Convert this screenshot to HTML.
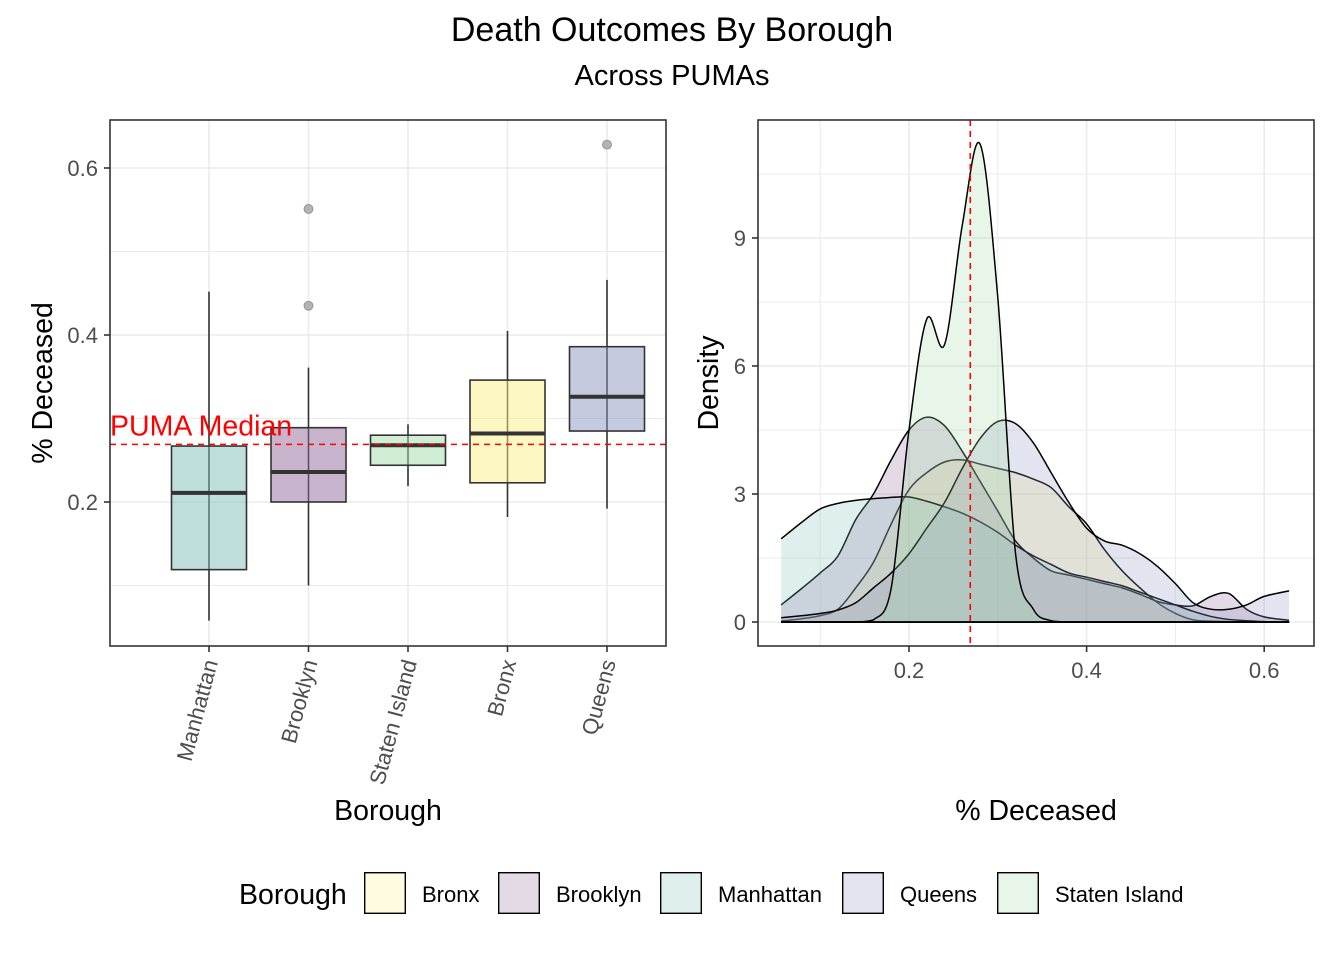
<!DOCTYPE html>
<html><head><meta charset="utf-8">
<style>
body{margin:0;background:#fff;}
svg{display:block;font-family:"Liberation Sans",Arial,sans-serif;}
</style></head>
<body>
<svg id="chart" width="1344" height="960" viewBox="0 0 1344 960" xmlns="http://www.w3.org/2000/svg">
<rect width="1344" height="960" fill="#fff"/>
<text x="672" y="41" font-size="34" text-anchor="middle" fill="#000">Death Outcomes By Borough</text>
<text x="672" y="85" font-size="29" text-anchor="middle" fill="#000">Across PUMAs</text>
<g id="left"></g>
<g id="right"></g>
<g id="legend"></g>
</svg>
<script>
// ---- data ----
const boroughs = ["Manhattan","Brooklyn","Staten Island","Bronx","Queens"];
const q1 = [0.119,0.200,0.244,0.223,0.285];
const med = [0.211,0.236,0.268,0.282,0.326];
const q3 = [0.267,0.289,0.280,0.346,0.386];
const whiskLo = [0.058,0.100,0.219,0.182,0.192];
const whiskHi = [0.452,0.361,0.293,0.405,0.466];
const outlierBorough = ["Brooklyn","Brooklyn","Queens"];
const outlierValue = [0.551,0.435,0.628];
const pumaMedian = 0.269;
const yTicksLeft = [0.2,0.4,0.6];
const densityX = [0.056,0.08,0.10,0.12,0.14,0.16,0.18,0.20,0.22,0.24,0.26,0.28,0.30,0.32,0.34,0.36,0.38,0.40,0.42,0.44,0.46,0.48,0.50,0.52,0.54,0.56,0.58,0.60,0.628];
const densBronx = [0.02,0.08,0.15,0.3,0.8,1.4,2.3,3.1,3.5,3.75,3.8,3.7,3.6,3.5,3.35,3.15,2.7,2.3,1.7,1.2,0.8,0.45,0.2,0.05,0.02,0.01,0,0,0];
const densBrooklyn = [0.4,0.8,1.15,1.55,2.4,3.0,3.8,4.5,4.8,4.6,4.0,3.3,2.6,1.9,1.5,1.2,1.1,1.0,0.9,0.8,0.65,0.48,0.4,0.38,0.6,0.67,0.3,0.12,0.04];
const densManhattan = [1.95,2.35,2.65,2.78,2.85,2.89,2.92,2.93,2.83,2.7,2.55,2.35,2.1,1.8,1.55,1.35,1.15,1.05,0.95,0.85,0.7,0.55,0.4,0.25,0.13,0.06,0.03,0.01,0];
const densQueens = [0.1,0.15,0.2,0.28,0.45,0.8,1.15,1.6,2.2,2.8,3.6,4.3,4.7,4.65,4.2,3.5,2.8,2.2,1.9,1.8,1.6,1.3,0.9,0.45,0.3,0.3,0.4,0.6,0.73];
const densStaten = [0,0,0,0,0,0.05,0.8,4.5,7.1,6.5,9.3,11.2,7.6,1.6,0.3,0.03,0,0,0,0,0,0,0,0,0,0,0,0,0];
const xTicksRight = [0.2,0.4,0.6];
const yTicksRight = [0,3,6,9];
const legendNames = ["Bronx","Brooklyn","Manhattan","Queens","Staten Island"];

const NS="http://www.w3.org/2000/svg";
const base = {"Bronx":"#fbf185","Brooklyn":"#916b9b","Manhattan":"#7fbfbb","Queens":"#8b95bf","Staten Island":"#a1dda7"};
function mk(tag,attrs,parent){const e=document.createElementNS(NS,tag);for(const k in attrs)e.setAttribute(k,attrs[k]);parent.appendChild(e);return e;}

// ---- left panel ----
const L=document.getElementById('left');
const lx0=110,lx1=666,ly0=120,ly1=646;
const yL=v=>502-(v-0.2)*835;
const xL=i=>209+i*99.5;
mk('rect',{x:lx0,y:ly0,width:lx1-lx0,height:ly1-ly0,fill:'#fff'},L);
[0.1,0.3,0.5].forEach(v=>{const g=mk('line',{x1:lx0,x2:lx1,y1:yL(v),y2:yL(v),stroke:'#ebebeb','stroke-width':1},L);

});
yTicksLeft.forEach(v=>{const g=mk('line',{x1:lx0,x2:lx1,y1:yL(v),y2:yL(v),stroke:'#ebebeb','stroke-width':1.6},L);


const t=mk('line',{x1:lx0-6,x2:lx0,y1:yL(v),y2:yL(v),stroke:'#333','stroke-width':1.6},L);


const tx=mk('text',{x:lx0-12,y:yL(v)+8,'font-size':22,'text-anchor':'end',fill:'#4d4d4d'},L);tx.textContent=v.toFixed(1);

});
boroughs.forEach((b,i)=>{const g=mk('line',{x1:xL(i),x2:xL(i),y1:ly0,y2:ly1,stroke:'#ebebeb','stroke-width':1.6},L);

});
boroughs.forEach((b,i)=>{
 const cx=xL(i);
 const w=mk('line',{x1:cx,x2:cx,y1:yL(whiskHi[i]),y2:yL(whiskLo[i]),stroke:'#333','stroke-width':1.6},L);
 
 
 const r=mk('rect',{x:cx-37.5,y:yL(q3[i]),width:75,height:yL(q1[i])-yL(q3[i]),fill:base[b],'fill-opacity':0.5,stroke:'#333','stroke-width':1.6},L);
 
 
 const m=mk('line',{x1:cx-37.5,x2:cx+37.5,y1:yL(med[i]),y2:yL(med[i]),stroke:'#333','stroke-width':4},L);
 
 
 const t=mk('line',{x1:cx,x2:cx,y1:ly1,y2:ly1+6,stroke:'#333','stroke-width':1.6},L);
 
 
 const tx=mk('text',{x:cx+9,y:662,'font-size':22,'text-anchor':'end',fill:'#4d4d4d',transform:`rotate(-75 ${cx+9} 662)`},L);tx.textContent=b;
 
 
});
outlierValue.forEach((v,k)=>{const i=boroughs.indexOf(outlierBorough[k]);
 const c=mk('circle',{cx:xL(i),cy:yL(v),r:4.5,fill:'#b3b3b3',stroke:'#8c8c8c','stroke-width':0.8},L);
 
 });
const ml=mk('line',{x1:lx0,x2:lx1,y1:yL(pumaMedian),y2:yL(pumaMedian),stroke:'#f00','stroke-width':1.6,'stroke-dasharray':'6 5'},L);


const mt=mk('text',{x:110,y:yL(pumaMedian)-9,'font-size':28.5,fill:'#f00'},L);mt.textContent='PUMA Median';


const fr=mk('rect',{x:lx0,y:ly0,width:lx1-lx0,height:ly1-ly0,fill:'none',stroke:'#333','stroke-width':1.6},L);


const yt=mk('text',{x:52,y:383,'font-size':28.5,'text-anchor':'middle',fill:'#000',transform:'rotate(-90 52 383)'},L);yt.textContent='% Deceased';


const xt=mk('text',{x:388,y:820,'font-size':28.5,'text-anchor':'middle',fill:'#000'},L);xt.textContent='Borough';



// ---- right panel ----
const R=document.getElementById('right');
const rx0=758,rx1=1314,ry0=120,ry1=646;
const xR=v=>909+(v-0.2)*888;
const yR=d=>622-d*42.67;
mk('rect',{x:rx0,y:ry0,width:rx1-rx0,height:ry1-ry0,fill:'#fff'},R);
[0.1,0.3,0.5].forEach(v=>{const g=mk('line',{x1:xR(v),x2:xR(v),y1:ry0,y2:ry1,stroke:'#ebebeb','stroke-width':1},R);

});
[1.5,4.5,7.5,10.5].forEach(v=>{const g=mk('line',{x1:rx0,x2:rx1,y1:yR(v),y2:yR(v),stroke:'#ebebeb','stroke-width':1},R);

});
xTicksRight.forEach(v=>{const g=mk('line',{x1:xR(v),x2:xR(v),y1:ry0,y2:ry1,stroke:'#ebebeb','stroke-width':1.6},R);


const t=mk('line',{x1:xR(v),x2:xR(v),y1:ry1,y2:ry1+6,stroke:'#333','stroke-width':1.6},R);


const tx=mk('text',{x:xR(v),y:678,'font-size':22,'text-anchor':'middle',fill:'#4d4d4d'},R);tx.textContent=v.toFixed(1);

});
yTicksRight.forEach(v=>{const g=mk('line',{x1:rx0,x2:rx1,y1:yR(v),y2:yR(v),stroke:'#ebebeb','stroke-width':1.6},R);


const t=mk('line',{x1:rx0-6,x2:rx0,y1:yR(v),y2:yR(v),stroke:'#333','stroke-width':1.6},R);


const tx=mk('text',{x:rx0-12,y:yR(v)+8,'font-size':22,'text-anchor':'end',fill:'#4d4d4d'},R);tx.textContent=String(v);

});
function smoothPath(xs,ys){
 const p=xs.map((x,i)=>[xR(x),yR(ys[i])]);
 let d=`M${p[0][0]},${p[0][1]}`;
 for(let i=0;i<p.length-1;i++){
  const p0=p[Math.max(i-1,0)],p1=p[i],p2=p[i+1],p3=p[Math.min(i+2,p.length-1)];
  const c1=[p1[0]+(p2[0]-p0[0])/6,p1[1]+(p2[1]-p0[1])/6];
  const c2=[p2[0]-(p3[0]-p1[0])/6,p2[1]-(p3[1]-p1[1])/6];
  c1[1]=Math.min(c1[1],yR(0));c2[1]=Math.min(c2[1],yR(0));
  d+=` C${c1[0]},${c1[1]} ${c2[0]},${c2[1]} ${p2[0]},${p2[1]}`;
 }
 return d;
}
const series=[["Bronx",densBronx],["Brooklyn",densBrooklyn],["Manhattan",densManhattan],["Queens",densQueens],["Staten Island",densStaten]];
series.forEach(([b,ys])=>{
 const line=smoothPath(densityX,ys);
 const x0=xR(densityX[0]),x1=xR(densityX[densityX.length-1]);
 const a=mk('path',{d:line+` L${x1},${yR(0)} L${x0},${yR(0)} Z`,fill:base[b],'fill-opacity':0.25,stroke:'none'},R);
 
 
 const l=mk('path',{d:line,fill:'none',stroke:'#000','stroke-width':1.5},R);
 
 
 const bl=mk('line',{x1:x0,x2:x1,y1:yR(0),y2:yR(0),stroke:'#000','stroke-width':1.5},R);
 
 
});
const vl=mk('line',{x1:xR(pumaMedian),x2:xR(pumaMedian),y1:ry0,y2:ry1,stroke:'#f00','stroke-width':1.6,'stroke-dasharray':'6 5'},R);


const fr2=mk('rect',{x:rx0,y:ry0,width:rx1-rx0,height:ry1-ry0,fill:'none',stroke:'#333','stroke-width':1.6},R);


const yt2=mk('text',{x:718,y:383,'font-size':28.5,'text-anchor':'middle',fill:'#000',transform:'rotate(-90 718 383)'},R);yt2.textContent='Density';


const xt2=mk('text',{x:1036,y:820,'font-size':28.5,'text-anchor':'middle',fill:'#000'},R);xt2.textContent='% Deceased';



// ---- legend ----
const G=document.getElementById('legend');
const lt=mk('text',{x:239,y:904,'font-size':28.5,fill:'#000'},G);lt.textContent='Borough';


const keyX=[364,498,660,842,997];
legendNames.forEach((b,i)=>{
 const bg=mk('rect',{x:keyX[i],y:872,width:42,height:42,fill:'#fff',stroke:'none'},G);
 
 
 const r=mk('rect',{x:keyX[i]+0.7,y:872.7,width:40.6,height:40.6,fill:base[b],'fill-opacity':0.25,stroke:'#000','stroke-width':1.4},G);
 
 
 const t=mk('text',{x:keyX[i]+58,y:902,'font-size':22,fill:'#000'},G);t.textContent=b;
 
 
});
</script>
</body></html>
